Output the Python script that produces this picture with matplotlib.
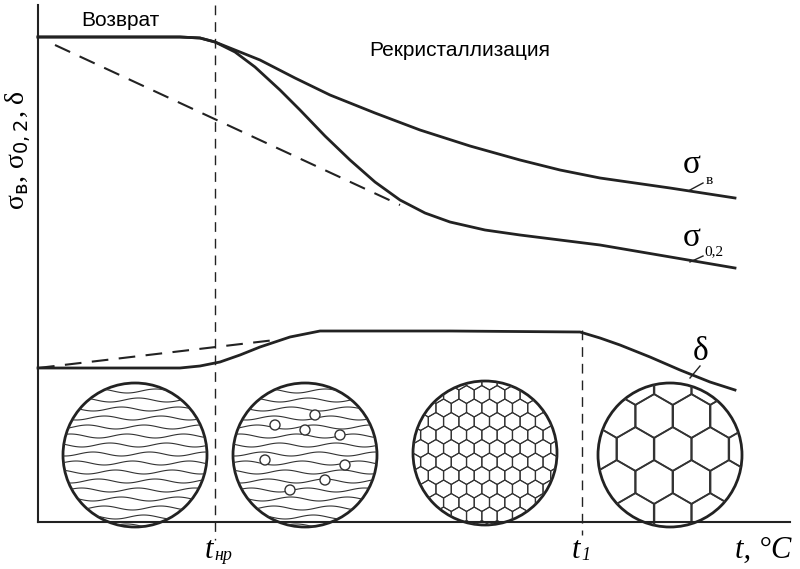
import numpy as np
import matplotlib.pyplot as plt
from matplotlib.patches import Circle, RegularPolygon

plt.rcParams['font.family'] = 'Liberation Serif'

# curves (pixel-like units, y down)
sb_x = [38, 180, 200, 215, 235, 260, 295, 330, 375, 420, 470, 520, 560, 600, 670, 735]
sb_y = [37, 37, 38, 42, 50, 60, 78, 95, 113, 130, 146, 160, 170, 178, 188, 198]
s02_x = [38, 180, 200, 215, 235, 255, 280, 300, 325, 350, 375, 400, 425, 450, 485, 520, 600, 735]
s02_y = [37, 37, 38, 42, 52, 67, 90, 110, 136, 160, 182, 200, 213, 222, 230, 235, 245, 268]
dash_x = [55, 400]
dash_y = [45, 205]
d_x = [38, 180, 200, 220, 240, 260, 290, 320, 450, 580, 600, 620, 650, 680, 710, 735]
d_y = [368, 368, 366, 362, 355, 347, 337, 331, 331, 332, 338, 345, 357, 370, 382, 390]
ddash_x = [38, 275]
ddash_y = [368, 340]
circ_x = [135, 305, 485, 670]
circ_y = [455, 455, 453, 455]
R = 72

fig = plt.figure(figsize=(8, 5.69), dpi=100)
ax = fig.add_axes([0, 0, 1, 1])
ax.set_xlim(0, 800)
ax.set_ylim(569, 0)
ax.axis('off')

k = dict(color='#222222', lw=2)
ax.plot([38, 38], [5, 522], color='#222222', lw=1.5)
ax.plot([38, 790], [522, 522], color='#222222', lw=1.5)
ax.plot(sb_x, sb_y, **k)
ax.plot(s02_x, s02_y, **k)
ax.plot(d_x, d_y, **k)
ax.plot(dash_x, dash_y, color='#222222', lw=1.5, dashes=(8, 5))
ax.plot(ddash_x, ddash_y, color='#222222', lw=1.5, dashes=(8, 5))
ax.plot([215, 215], [5, 540], color='#222222', lw=1, dashes=(7, 5))
ax.plot([582, 582], [330, 535], color='#222222', lw=1, dashes=(7, 5))

# microstructure circles
for i, (cx, cy) in enumerate(zip(circ_x, circ_y)):
    c = Circle((cx, cy), R, fill=False, lw=2, color='#222222')
    ax.add_patch(c)
    if i < 2:
        t = np.linspace(cx - R, cx + R, 80)
        for j, yy in enumerate(np.arange(cy - R + 8, cy + R, 9)):
            ln, = ax.plot(t, yy + 2 * np.sin((t + j * 17) / 9), color='#333333', lw=0.8)
            ln.set_clip_path(c)
        if i == 1:
            for dx, dy in [(-30, -30), (10, -40), (35, -20), (-40, 5), (0, -25), (20, 25), (-15, 35), (40, 10)]:
                g = Circle((cx + dx, cy + dy), 5, fill=True, fc='white', lw=1, color='#333333', zorder=3)
                ax.add_patch(g)
    else:
        r = 9 if i == 2 else 22
        for gx in np.arange(cx - R, cx + R + r, r * 1.7):
            for n, gy in enumerate(np.arange(cy - R, cy + R + r, r * 1.5)):
                off = r * 0.85 if n % 2 else 0
                h = RegularPolygon((gx + off, gy), 6, radius=r, fill=False,
                                   lw=0.8 if i == 2 else 1.2, color='#333333')
                ax.add_patch(h)
                h.set_clip_path(c)

# labels
ax.text(120, 20, 'Возврат', fontsize=15, ha='center', va='center', family='Liberation Sans')
ax.text(460, 50, 'Рекристаллизация', fontsize=15, ha='center', va='center', family='Liberation Sans')
ax.text(683, 165, 'σ', fontsize=24, va='center')
ax.text(706, 180, 'в', fontsize=11, va='center')
ax.text(683, 238, 'σ', fontsize=24, va='center')
ax.text(704, 252, '0,2', fontsize=11, va='center')
ax.text(693, 352, 'δ', fontsize=24, va='center')
ax.plot([690, 703], [190, 183], color='#222222', lw=1)
ax.plot([690, 703], [262, 256], color='#222222', lw=1)
ax.plot([690, 700], [378, 366], color='#222222', lw=1)
ax.text(18, 150, 'σ$_{\\rm в}$, σ$_{0,2}$, δ', fontsize=20, rotation=90, ha='center', va='center')
ax.text(205, 550, 't', fontsize=22, style='italic', va='center')
ax.text(214, 556, 'нр', fontsize=13, style='italic', va='center')
ax.text(572, 550, 't', fontsize=22, style='italic', va='center')
ax.text(581, 556, '1', fontsize=13, style='italic', va='center')
ax.text(735, 550, 't, °C', fontsize=22, style='italic', va='center')

fig.savefig('out.png', dpi=100)
